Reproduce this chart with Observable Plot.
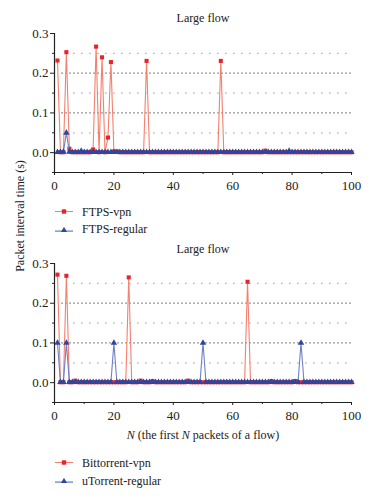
<!DOCTYPE html>
<html>
<head>
<meta charset="utf-8">
<script src="https://cdn.jsdelivr.net/npm/d3@7"></script>
<script src="https://cdn.jsdelivr.net/npm/@observablehq/plot@0.6"></script>
<style>
  html, body { margin: 0; padding: 0; background: #fff; }
  #root { position: relative; width: 373px; height: 500px; overflow: hidden; font-family: "Liberation Serif", "DejaVu Serif", serif; color: #222; }
  .abs { position: absolute; white-space: nowrap; }
  .title { font-size: 12px; transform: translate(-50%, -50%); }
  .leg { font-size: 12px; display: flex; align-items: center; transform: translateY(-50%); }
  .leg svg { margin-right: 9px; }
</style>
</head>
<body>
<div id="root"></div>
<script>
// ---------- data ----------
const packetN = d3.range(1, 101); // N = 1..100

// Top panel
const ftpsVpn = [
  0.232, 0.001, 0.001, 0.253, 0.010, 0.001, 0.001, 0.001, 0.001, 0.001,
  0.001, 0.001, 0.008, 0.267, 0.001, 0.240, 0.001, 0.038, 0.228, 0.003,
  0.003, 0.001, 0.001, 0.001, 0.001, 0.001, 0.001, 0.001, 0.001, 0.001,
  0.231, 0.001, 0.001, 0.001, 0.001, 0.001, 0.001, 0.001, 0.001, 0.001,
  0.001, 0.001, 0.001, 0.001, 0.001, 0.001, 0.001, 0.001, 0.001, 0.001,
  0.001, 0.001, 0.001, 0.001, 0.001, 0.231, 0.001, 0.001, 0.001, 0.001,
  0.001, 0.001, 0.001, 0.001, 0.001, 0.001, 0.001, 0.001, 0.001, 0.001,
  0.005, 0.001, 0.001, 0.001, 0.001, 0.001, 0.001, 0.001, 0.001, 0.001,
  0.001, 0.001, 0.001, 0.001, 0.001, 0.001, 0.001, 0.001, 0.001, 0.001,
  0.001, 0.001, 0.001, 0.001, 0.001, 0.001, 0.001, 0.001, 0.001, 0.001
];
const ftpsRegular = [
  0.001, 0.001, 0.002, 0.050, 0.002, 0.001, 0.001, 0.001, 0.004, 0.001,
  0.001, 0.001, 0.001, 0.001, 0.001, 0.001, 0.001, 0.001, 0.001, 0.001,
  0.001, 0.001, 0.001, 0.001, 0.001, 0.001, 0.001, 0.001, 0.001, 0.001,
  0.001, 0.001, 0.001, 0.001, 0.001, 0.001, 0.001, 0.001, 0.001, 0.001,
  0.001, 0.001, 0.001, 0.001, 0.001, 0.001, 0.001, 0.001, 0.001, 0.001,
  0.001, 0.001, 0.001, 0.001, 0.001, 0.001, 0.001, 0.001, 0.001, 0.001,
  0.001, 0.001, 0.001, 0.001, 0.001, 0.001, 0.001, 0.001, 0.001, 0.001,
  0.001, 0.001, 0.001, 0.001, 0.001, 0.001, 0.001, 0.001, 0.004, 0.001,
  0.001, 0.001, 0.001, 0.001, 0.001, 0.001, 0.001, 0.001, 0.001, 0.001,
  0.001, 0.001, 0.001, 0.001, 0.001, 0.001, 0.001, 0.001, 0.001, 0.001
];

// Bottom panel
const bittorrentVpn = [
  0.272, 0.001, 0.001, 0.269, 0.001, 0.001, 0.005, 0.001, 0.001, 0.001,
  0.001, 0.001, 0.001, 0.001, 0.001, 0.001, 0.001, 0.001, 0.001, 0.001,
  0.001, 0.001, 0.001, 0.001, 0.265, 0.001, 0.001, 0.001, 0.005, 0.001,
  0.001, 0.001, 0.004, 0.001, 0.001, 0.001, 0.001, 0.001, 0.001, 0.001,
  0.001, 0.001, 0.001, 0.001, 0.005, 0.001, 0.001, 0.001, 0.001, 0.001,
  0.001, 0.001, 0.001, 0.001, 0.001, 0.001, 0.001, 0.001, 0.001, 0.001,
  0.001, 0.001, 0.001, 0.001, 0.254, 0.001, 0.001, 0.001, 0.001, 0.001,
  0.001, 0.001, 0.004, 0.001, 0.001, 0.001, 0.001, 0.001, 0.001, 0.001,
  0.004, 0.001, 0.001, 0.001, 0.001, 0.001, 0.001, 0.001, 0.001, 0.001,
  0.001, 0.001, 0.001, 0.001, 0.001, 0.001, 0.001, 0.001, 0.001, 0.001
];
const utorrentRegular = [
  0.100, 0.001, 0.001, 0.100, 0.001, 0.001, 0.001, 0.001, 0.001, 0.001,
  0.001, 0.001, 0.001, 0.001, 0.001, 0.001, 0.001, 0.001, 0.001, 0.100,
  0.001, 0.001, 0.001, 0.001, 0.001, 0.001, 0.001, 0.001, 0.001, 0.001,
  0.001, 0.001, 0.001, 0.001, 0.001, 0.001, 0.001, 0.001, 0.001, 0.001,
  0.001, 0.001, 0.001, 0.001, 0.001, 0.001, 0.001, 0.001, 0.001, 0.100,
  0.001, 0.001, 0.001, 0.001, 0.001, 0.001, 0.001, 0.001, 0.001, 0.001,
  0.001, 0.001, 0.001, 0.001, 0.001, 0.001, 0.001, 0.001, 0.001, 0.001,
  0.001, 0.001, 0.001, 0.001, 0.001, 0.001, 0.001, 0.001, 0.001, 0.001,
  0.001, 0.001, 0.100, 0.001, 0.001, 0.001, 0.001, 0.001, 0.001, 0.001,
  0.001, 0.001, 0.001, 0.001, 0.001, 0.001, 0.001, 0.001, 0.001, 0.001
];

const yTicksMajor = [0, 0.1, 0.2, 0.3];
const yTicksMinor = [-0.05, 0.05, 0.15, 0.25];
const xTicksMajor = [0, 20, 40, 60, 80, 100];
const xTicksMinor = [10, 30, 50, 70, 90];
const gridMajor = [0.1, 0.2];
const gridMinor = [0.05, 0.15, 0.25];

const panelTitle = "Large flow";
const yLabel = "Packet interval time (s)";
const topLegend = ["FTPS-vpn", "FTPS-regular"];
const bottomLegend = ["Bittorrent-vpn", "uTorrent-regular"];

// ---------- styles ----------
const RED_LINE = "#f4806f", RED_DOT = "#e8232a";
const BLUE_LINE = "#6f80c6", BLUE_DOT = "#2c47a0";

function panel(vpnVals, regVals) {
  const vpn = packetN.map((n, i) => ({N: n, v: vpnVals[i]}));
  const reg = packetN.map((n, i) => ({N: n, v: regVals[i]}));
  return Plot.plot({
    width: 373, height: 195,
    marginLeft: 54, marginRight: 22, marginTop: 33, marginBottom: 23,
    x: {domain: [0, 100]},
    y: {domain: [-0.05, 0.3]},
    style: {fontFamily: "'Liberation Serif', serif", fontSize: "13px", color: "#222", background: "transparent", overflow: "visible"},
    marks: [
      Plot.ruleY(gridMajor, {x1: 2.5, x2: 100, stroke: "#555", strokeWidth: 1.2, strokeDasharray: "1.2,2.8"}),
      Plot.ruleY(gridMinor, {x1: 6.5, x2: 100, stroke: "#999", strokeWidth: 1.2, strokeDasharray: "1.2,6.8"}),
      Plot.line(vpn, {x: "N", y: "v", stroke: RED_LINE, strokeWidth: 1.1}),
      Plot.dot(vpn, {x: "N", y: "v", symbol: "square", r: 2.3, fill: RED_DOT, stroke: "none"}),
      Plot.line(reg, {x: "N", y: "v", stroke: BLUE_LINE, strokeWidth: 1.1}),
      Plot.dot(reg, {x: "N", y: "v", symbol: "triangle", r: 2.4, fill: BLUE_DOT, stroke: "none"}),
      Plot.axisY({ticks: yTicksMajor, tickFormat: d3.format(".1f"), tickSize: 4, tickPadding: 2, label: null, stroke: "#222"}),
      Plot.axisY({ticks: yTicksMinor, tickFormat: () => "", tickSize: 2, label: null, stroke: "#222"}),
      Plot.axisX({ticks: xTicksMajor, tickSize: 3, tickPadding: 5, label: null, stroke: "#222"}),
      Plot.axisX({ticks: xTicksMinor, tickFormat: () => "", tickSize: 2, label: null, stroke: "#222"}),
      Plot.ruleX([0], {y1: -0.05, y2: 0.3, stroke: "#222", strokeWidth: 1.2}),
      Plot.ruleY([-0.05], {x1: 0, x2: 100, stroke: "#222", strokeWidth: 1.2})
    ]
  });
}

const root = document.getElementById("root");

function place(el, top) {
  el.style.position = "absolute";
  el.style.left = "0px";
  el.style.top = top + "px";
  root.appendChild(el);
}

function addDiv(cls, html, left, top) {
  const d = document.createElement("div");
  d.className = "abs " + cls;
  d.innerHTML = html;
  d.style.left = left + "px";
  d.style.top = top + "px";
  root.appendChild(d);
  return d;
}

function legendIcon(lineColor, dotColor, shape) {
  const marker = shape === "square"
    ? `<rect x="6.8" y="2.8" width="4.4" height="4.4" fill="${dotColor}"/>`
    : `<path d="M9,2.2 L12,7.4 L6,7.4 Z" fill="${dotColor}"/>`;
  return `<svg width="18" height="10" viewBox="0 0 18 10"><line x1="0" x2="18" y1="${shape === "square" ? 5 : 6.6}" y2="${shape === "square" ? 5 : 6.6}" stroke="${lineColor}" stroke-width="1.2"/>${marker}</svg>`;
}

place(panel(ftpsVpn, ftpsRegular), 0);
place(panel(bittorrentVpn, utorrentRegular), 230);

addDiv("title", panelTitle, 203, 18);
addDiv("title", panelTitle, 203, 249);
addDiv("title", "<i>N</i> (the first <i>N</i> packets of a flow)", 203, 435);

const yl = addDiv("", yLabel, 20, 216);
yl.style.fontSize = "12px";
yl.style.transform = "translate(-50%, -50%) rotate(-90deg)";

addDiv("leg", legendIcon(RED_LINE, RED_DOT, "square") + topLegend[0], 55, 211.5);
addDiv("leg", legendIcon(BLUE_LINE, BLUE_DOT, "triangle") + topLegend[1], 55, 229);
addDiv("leg", legendIcon(RED_LINE, RED_DOT, "square") + bottomLegend[0], 55, 462.5);
addDiv("leg", legendIcon(BLUE_LINE, BLUE_DOT, "triangle") + bottomLegend[1], 55, 480.5);
</script>
</body>
</html>
